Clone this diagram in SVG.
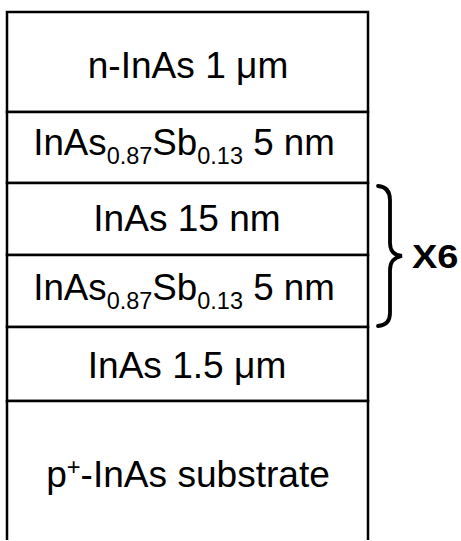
<svg xmlns="http://www.w3.org/2000/svg" width="461" height="541" viewBox="0 0 461 541">
<style>
.box{fill:#fff;stroke:#000;stroke-width:2.5}
.t{font-family:"Liberation Sans",Arial,sans-serif;font-size:36px;fill:#000;text-anchor:middle}
.sub{font-size:23px}
.b{font-weight:bold;text-anchor:start}
</style>
<rect width="461" height="541" fill="#fff"/>
<g id="n-inas">
<rect class="box" x="7" y="12" width="361" height="100"/>
<text class="t" transform="translate(188,78) scale(1.03,1)">n-InAs 1 μm</text>
</g>
<g id="inassb-top">
<rect class="box" x="7" y="112" width="361" height="71"/>
<text class="t" transform="translate(184,155) scale(1.02,1)">InAs<tspan class="sub" dy="9">0.87</tspan><tspan dy="-9">Sb</tspan><tspan class="sub" dy="9">0.13</tspan><tspan dy="-9"> 5 nm</tspan></text>
</g>
<g id="inas-15">
<rect class="box" x="7" y="183" width="361" height="72"/>
<text class="t" transform="translate(187,231) scale(1.03,1)">InAs 15 nm</text>
</g>
<g id="inassb-sl">
<rect class="box" x="7" y="255" width="361" height="72"/>
<text class="t" transform="translate(184,300) scale(1.02,1)">InAs<tspan class="sub" dy="9">0.87</tspan><tspan dy="-9">Sb</tspan><tspan class="sub" dy="9">0.13</tspan><tspan dy="-9"> 5 nm</tspan></text>
</g>
<g id="inas-buffer">
<rect class="box" x="7" y="327" width="361" height="74"/>
<text class="t" transform="translate(187,378) scale(1.03,1)">InAs 1.5 μm</text>
</g>
<g id="substrate">
<path class="box" d="M7,540 V401 H368 V540"/>
<text class="t" transform="translate(188,487) scale(1.03,1)">p<tspan class="sub" dy="-12">+</tspan><tspan dy="12">-InAs substrate</tspan></text>
</g>
<g id="connectors">
<path d="M378,186 Q390,187 390,200 V243 Q390,255 402,256 Q390,258 390,270 V313 Q390,325 378,326" fill="none" stroke="#000" stroke-width="3.8" stroke-linecap="round"/>
</g>
<g id="repeat-label">
<text class="t b" transform="translate(412,268) scale(1.15,1)" style="font-size:33px">X6</text>
</g>
</svg>
